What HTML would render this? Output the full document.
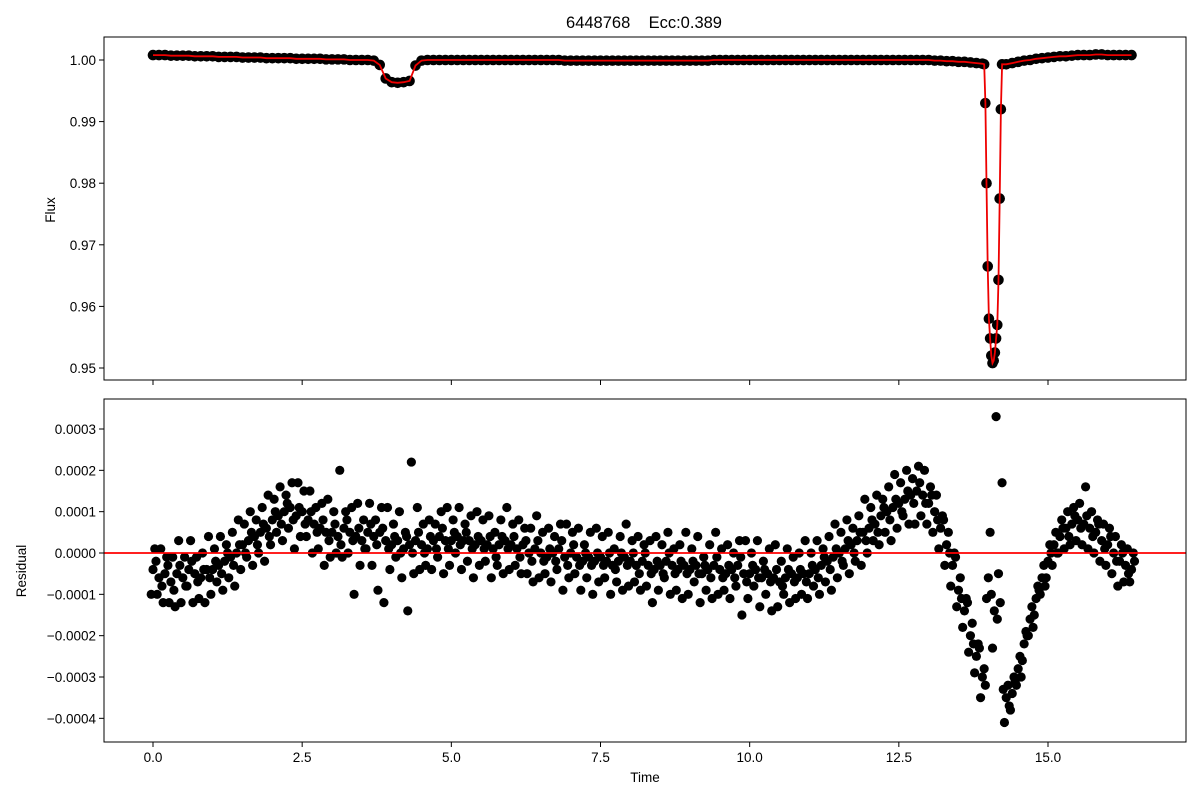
<!DOCTYPE html>
<html><head><meta charset="utf-8"><style>
body{margin:0;background:#fff;}
svg{display:block;font-family:"Liberation Sans","DejaVu Sans",sans-serif;}
</style></head><body>
<svg id="fig" width="1200" height="800" viewBox="0 0 1200 800">
<rect width="1200" height="800" fill="#fff"/>
<text x="644" y="28" font-size="16.5" text-anchor="middle" xml:space="preserve">6448768    Ecc:0.389</text>
<g id="topPanel"></g>
<g id="botPanel"></g>
<text x="55" y="210" font-size="13.5" text-anchor="middle" transform="rotate(-90 55 210)">Flux</text>
<text x="26" y="571" font-size="13.5" text-anchor="middle" transform="rotate(-90 26 571)">Residual</text>
<text x="645" y="782" font-size="13.5" text-anchor="middle">Time</text>
</svg>
<script>
// flux deviation (x1e-3) sampled every 0.1 days, null = inside primary eclipse
const fluxDev = [0.8,0.8,0.8,0.7,0.7,0.7,0.7,0.6,0.6,0.6,
0.6,0.5,0.5,0.5,0.5,0.4,0.4,0.4,0.4,0.3,
0.3,0.3,0.3,0.3,0.2,0.2,0.2,0.2,0.2,0.1,
0.1,0.1,0.1,0.0,0.0,0.0,0.0,-0.1,-0.8,-3.0,
-3.6,-3.7,-3.6,-3.4,-0.9,-0.1,0.0,0.0,0.0,0.0,
0.0,0.0,0.0,0.0,0.0,0.0,0.0,0.0,0.0,0.0,
0.0,0.0,0.0,0.0,0.0,0.0,0.0,0.0,0.0,-0.1,
-0.1,-0.1,-0.1,-0.1,-0.1,-0.1,-0.1,-0.1,-0.1,-0.1,
-0.1,-0.1,-0.1,-0.1,-0.1,-0.1,-0.1,-0.1,-0.1,-0.1,
-0.1,-0.1,-0.1,-0.1,0.0,0.0,0.0,0.0,0.0,0.0,
0.0,0.0,0.0,0.0,0.0,0.0,0.0,0.0,0.0,0.0,
0.0,0.0,0.0,0.0,0.0,0.0,0.0,0.0,0.0,0.0,
0.0,0.0,0.0,0.0,0.0,0.0,0.0,0.0,0.0,0.0,
0.0,-0.1,-0.1,-0.2,-0.2,-0.3,-0.3,-0.4,-0.5,-0.6,
null,null,null,-0.7,-0.5,-0.3,-0.1,0.0,0.2,0.3,
0.4,0.5,0.6,0.6,0.7,0.8,0.8,0.8,0.9,0.9,
0.8,0.8,0.8,0.8,0.8];
// primary eclipse detail
const eclTimes = [13.93,13.95,13.97,13.99,14.01,14.03,14.05,14.07,14.09,14.11,14.13,14.15,14.17,14.19,14.21,14.23];
const eclFlux = [0.9993,0.993,0.980,0.9665,0.958,0.9548,0.952,0.9508,0.9512,0.9525,0.9548,0.957,0.9643,0.9775,0.992,0.9993];
// residuals (x1e-4) sampled every 0.1 days
const resMid = [-0.4,-0.6,-0.5,-0.7,-0.5,-0.6,-0.4,-0.5,-0.6,-0.4,
-0.4,-0.3,-0.2,-0.1,0.0,0.2,0.3,0.4,0.5,0.6,
0.8,0.9,1.0,1.1,0.9,1.0,0.8,0.7,0.6,0.5,
0.5,0.4,0.6,0.5,0.4,0.3,0.5,0.4,0.5,0.3,
0.2,0.3,0.1,0.2,0.3,0.2,0.1,0.3,0.4,0.3,
0.3,0.4,0.3,0.3,0.2,0.3,0.2,0.1,0.2,0.3,
0.2,0.1,0.2,0.0,0.1,0.0,-0.1,0.0,0.1,-0.1,
0.0,-0.1,-0.2,-0.1,-0.2,-0.1,-0.2,-0.3,-0.2,-0.1,
-0.2,-0.3,-0.2,-0.3,-0.4,-0.3,-0.2,-0.3,-0.4,-0.3,
-0.4,-0.3,-0.5,-0.4,-0.3,-0.4,-0.5,-0.4,-0.3,-0.5,
-0.5,-0.4,-0.6,-0.5,-0.6,-0.7,-0.6,-0.5,-0.6,-0.5,
-0.5,-0.4,-0.3,-0.2,-0.1,0.0,0.1,0.2,0.3,0.5,
0.6,0.7,0.9,1.0,1.1,1.2,1.3,1.4,1.5,1.4,
1.2,1.0,0.6,0.2,-0.3,-0.9,-1.4,-2.0,-2.5,-3.0,
-0.6,-1.4,-1.2,-3.5,-3.4,-2.8,-2.2,-1.6,-1.1,-0.6,
-0.2,0.2,0.4,0.6,0.7,0.8,0.7,0.6,0.5,0.3,
0.2,0.0,-0.2,-0.3,-0.4];
// residuals (x1e-4) at half-step times (i*0.1+0.05)
const resHalf = [-0.2,-0.8,-0.3,-0.9,-0.3,-0.8,-0.2,-0.7,-0.4,-0.6,
-0.2,-0.5,0.0,-0.3,0.2,0.0,0.5,0.2,0.7,0.4,
1.0,0.7,1.2,0.8,1.1,0.7,1.0,0.5,0.8,0.3,
0.7,0.2,0.8,0.3,0.6,0.1,0.7,0.2,0.6,0.1,
0.4,0.0,0.4,0.0,0.5,0.0,0.4,0.1,0.6,0.1,
0.5,0.2,0.5,0.1,0.4,0.1,0.4,-0.1,0.4,0.1,
0.4,-0.1,0.3,-0.2,0.3,-0.2,0.1,-0.2,0.3,-0.3,
0.2,-0.3,0.0,-0.3,0.0,-0.3,0.0,-0.4,0.0,-0.3,
0.0,-0.5,0.0,-0.5,-0.2,-0.5,0.0,-0.5,-0.2,-0.5,
-0.2,-0.5,-0.3,-0.6,-0.1,-0.6,-0.3,-0.6,-0.1,-0.7,
-0.3,-0.6,-0.4,-0.7,-0.4,-0.8,-0.4,-0.7,-0.4,-0.7,
-0.3,-0.6,-0.1,-0.4,0.1,-0.2,0.3,0.0,0.5,0.3,
0.8,0.5,1.1,0.8,1.3,1.0,1.5,1.2,1.7,1.2,
1.4,0.8,0.8,0.0,-0.1,-1.1,-1.2,-2.2,-2.3,-3.2,
-1.0,-1.6,-3.3,-3.7,-3.1,-3.0,-2.0,-1.8,-0.9,-0.8,
0.0,0.0,0.6,0.4,0.9,0.6,0.9,0.4,0.7,0.1,
0.4,-0.2,0.0,-0.5,-0.2];
const resUp = [0.1,0.1,-0.1,-0.1,0.3,-0.1,0.3,-0.1,0.0,0.4,
0.1,0.4,0.2,0.5,0.8,0.7,1.0,0.8,1.1,1.4,
1.3,1.6,1.4,1.7,1.7,1.5,1.5,1.1,1.2,1.3,
1.0,2.0,1.0,1.1,1.2,0.8,1.2,0.8,1.1,1.1,
0.7,1.0,0.5,2.2,1.1,0.7,0.8,0.7,1.0,1.1,
0.8,1.1,0.7,0.9,1.0,0.8,0.9,0.5,0.8,1.1,
0.7,0.8,0.6,0.6,0.9,0.5,0.6,0.4,0.7,0.7,
0.5,0.6,0.2,0.5,0.6,0.4,0.5,0.1,0.4,0.7,
0.3,0.4,0.2,0.3,0.4,0.2,0.5,0.1,0.2,0.5,
0.1,0.4,-0.1,0.2,0.5,0.1,0.2,0.0,0.3,0.3,
0.0,0.3,-0.2,0.1,0.2,-0.2,0.1,-0.1,0.0,0.3,
0.0,0.3,0.1,0.4,0.7,0.5,0.8,0.6,0.9,1.3,
1.1,1.4,1.3,1.6,1.9,1.7,2.0,1.8,2.1,2.0,
1.6,1.4,0.9,0.5,0.0,-0.6,-1.1,-1.7,-2.2,-2.8,
0.5,3.3,1.7,-3.2,-3.0,-2.5,-1.9,-1.3,-0.8,-0.3,
0.2,0.5,0.8,1.0,1.1,1.2,1.6,1.0,0.8,0.7,
0.6,0.4,0.2,0.1,0.0];
const resDown = [-1.0,-1.0,-1.2,-1.2,-1.3,-1.2,-0.8,-1.2,-1.1,-1.2,
-1.0,-0.7,-0.9,-0.6,-0.8,-0.4,-0.1,-0.3,0.0,-0.2,
0.2,0.5,0.3,0.6,0.1,0.4,0.4,0.0,0.1,-0.3,
-0.1,0.0,-0.1,0.0,-1.0,-0.3,0.1,-0.3,-0.9,-1.2,
-0.4,-0.1,-0.6,-1.4,-0.5,-0.4,-0.3,-0.4,-0.1,-0.5,
-0.3,0.0,-0.4,-0.2,-0.6,-0.3,-0.2,-0.6,-0.3,-0.5,
-0.4,-0.3,-0.5,-0.5,-0.7,-0.6,-0.5,-0.7,-0.4,-0.9,
-0.6,-0.5,-0.9,-0.6,-1.0,-0.7,-0.6,-1.0,-0.7,-0.9,
-0.8,-0.7,-0.9,-0.8,-1.2,-0.9,-0.6,-1.0,-0.9,-1.1,
-1.0,-0.7,-1.2,-0.9,-1.1,-1.0,-0.9,-1.1,-0.8,-1.5,
-1.1,-0.8,-1.3,-1.0,-1.4,-1.3,-1.0,-1.2,-1.1,-1.0,
-1.1,-0.8,-1.0,-0.7,-0.9,-0.6,-0.3,-0.5,-0.2,-0.3,
0.0,0.3,0.2,0.5,0.3,0.6,0.9,0.7,0.7,0.9,
0.7,0.5,0.1,-0.3,-0.8,-1.3,-1.8,-2.4,-2.9,-3.5,
-1.1,-2.3,-0.5,-4.1,-3.8,-3.2,-2.6,-2.0,-1.5,-1.0,
-0.6,-0.3,0.0,0.1,0.2,0.3,0.2,0.1,0.0,-0.2,
-0.3,-0.5,-0.8,-0.7,-0.7];
const xTicks = [0,2.5,5,7.5,10,12.5,15];
const xTickLabels = ["0.0","2.5","5.0","7.5","10.0","12.5","15.0"];
const fluxTicks = [1.00,0.99,0.98,0.97,0.96,0.95];
const fluxTickLabels = ["1.00","0.99","0.98","0.97","0.96","0.95"];
const resTicks = [3,2,1,0,-1,-2,-3,-4];
const resTickLabels = ["0.0003","0.0002","0.0001","0.0000","\u22120.0001","\u22120.0002","\u22120.0003","\u22120.0004"];

const NS="http://www.w3.org/2000/svg";
const L=104,R=1186;
const xs=t=>153+(t-0)*(1048-153)/15;
const yTop=f=>60+(1.00-f)*(368-60)/0.05;
const yBot=v=>553-v*(553-429)/3;
function mk(p,tag,at){const e=document.createElementNS(NS,tag);for(const k in at)e.setAttribute(k,at[k]);p.appendChild(e);return e;}
const topG=document.getElementById('topPanel'),botG=document.getElementById('botPanel');

function frame(g,y0,y1,nm){
  const r=mk(g,'rect',{x:L,y:y0,width:R-L,height:y1-y0,fill:'none',stroke:'#000','stroke-width':1});
  
  
}
// top panel
xTicks.forEach(t=>{const l=mk(topG,'line',{x1:xs(t),x2:xs(t),y1:380,y2:385,stroke:'#000'});

});
fluxTicks.forEach((f,i)=>{const y=yTop(f);mk(topG,'line',{x1:L-5,x2:L,y1:y,y2:y,stroke:'#000'});
const tx=mk(topG,'text',{x:L-8,y:y+5,'font-size':13.5,'text-anchor':'end'});tx.textContent=fluxTickLabels[i];

});
// flux points
const fpts=[];
fluxDev.forEach((v,i)=>{if(v===null)return;fpts.push([i*0.1,1+v/1000]);});
eclTimes.forEach((t,i)=>fpts.push([t,eclFlux[i]]));
fpts.sort((a,b)=>a[0]-b[0]);
fpts.forEach(p=>{const c=mk(topG,'circle',{cx:xs(p[0]),cy:yTop(p[1]),r:5.3,fill:'#000'});

});
const fl=mk(topG,'polyline',{points:fpts.map(p=>xs(p[0]).toFixed(1)+','+yTop(p[1]).toFixed(1)).join(' '),fill:'none',stroke:'#e00','stroke-width':1.8});


frame(topG,37,380,'flux-axes-frame');

// bottom panel
xTicks.forEach((t,i)=>{const x=xs(t);mk(botG,'line',{x1:x,x2:x,y1:742,y2:747,stroke:'#000'});
const tx=mk(botG,'text',{x:x,y:762,'font-size':13.5,'text-anchor':'middle'});tx.textContent=xTickLabels[i];

});
resTicks.forEach((v,i)=>{const y=yBot(v);mk(botG,'line',{x1:L-5,x2:L,y1:y,y2:y,stroke:'#000'});
const tx=mk(botG,'text',{x:L-8,y:y+5,'font-size':13.5,'text-anchor':'end'});tx.textContent=resTickLabels[i];

});
[resMid,resUp,resDown,resHalf].forEach(arr=>arr.forEach((v,i)=>{
  const off = arr===resUp?0.03:arr===resDown?-0.03:arr===resHalf?0.05:0;
  const c=mk(botG,'circle',{cx:xs(i*0.1+off),cy:yBot(v),r:4.6,fill:'#000'});
  
  
}));
const zl=mk(botG,'line',{x1:L,x2:R,y1:yBot(0),y2:yBot(0),stroke:'#f00','stroke-width':1.8});


frame(botG,399,742,'residual-axes-frame');
</script>
</body></html>
